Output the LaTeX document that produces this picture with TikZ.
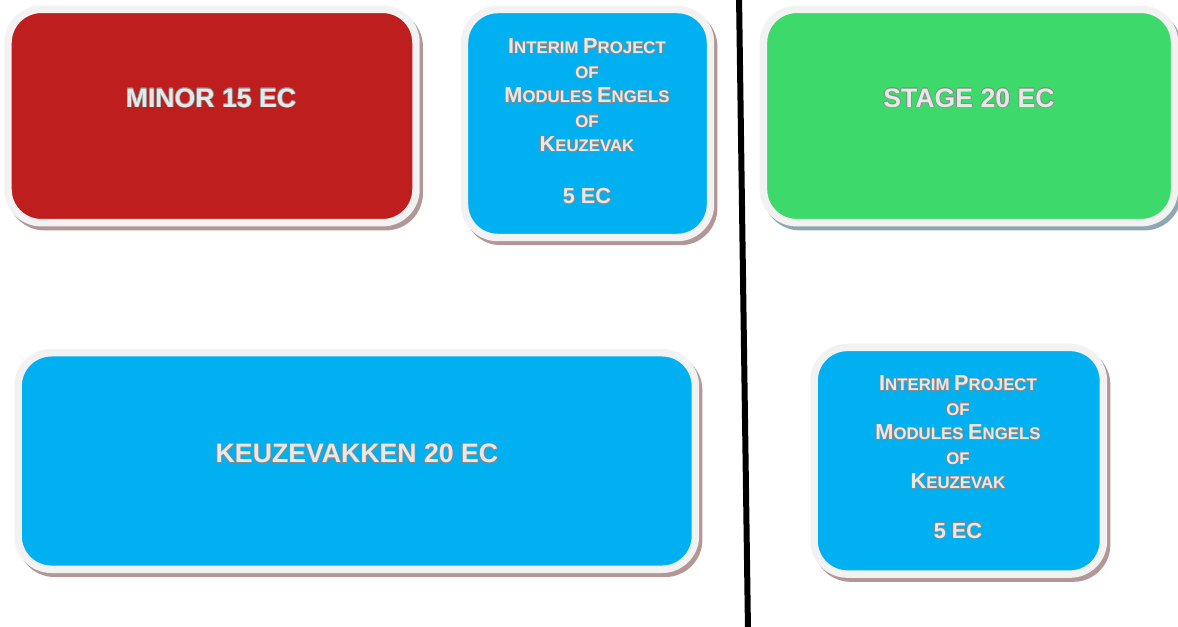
\documentclass[tikz,border=0pt]{standalone}
\usepackage{fontspec}
\setmainfont{Liberation Sans}
\usepackage[copies]{contour}
\contourlength{0.4pt}
\contournumber{16}
\definecolor{minorred}{HTML}{BE1E1E}
\definecolor{sky}{HTML}{00B0F0}
\definecolor{stagegreen}{HTML}{3DD96B}
\definecolor{rimgrey}{HTML}{F2F2F2}
\definecolor{shadebrown}{HTML}{B39696}
\definecolor{shadeblue}{HTML}{8DA8B2}
\definecolor{txtfill}{HTML}{E8E8E8}
\definecolor{txtline}{HTML}{8A8A8A}
\newcommand\oltext[1]{\contour{txtline}{\textcolor{txtfill}{#1}}}
\newcommand\capbig[1]{{\fontsize{16.3pt}{18.4pt}\selectfont #1}}
\begin{document}
\begin{tikzpicture}[x=0.75pt,y=-0.75pt,
  card/.style={draw=rimgrey, line width=5.6pt, rounded corners=25pt,
    minimum width={#1}, inner sep=0pt},
  redcard/.style={card=#1, fill=minorred,
    preaction={draw=shadebrown, fill=shadebrown, transform canvas={shift={(2.4pt,-3pt)}}}},
  bluecard/.style={card=#1, fill=sky,
    preaction={draw=shadebrown, fill=shadebrown, transform canvas={shift={(2.4pt,-3pt)}}}},
  greencard/.style={card=#1, fill=stagegreen,
    preaction={draw=shadeblue, fill=shadeblue, transform canvas={shift={(2.4pt,-3pt)}}}},
  bigtxt/.style={font=\bfseries\fontsize{20pt}{24pt}\selectfont, inner sep=0pt},
  smalltxt/.style={font=\bfseries\fontsize{12.6pt}{18.4pt}\selectfont, align=center, inner sep=0pt},
  divider/.style={line width=4.5pt, black}
]
\useasboundingbox (0,0) rectangle (1178,626);

\node[redcard={306pt}, minimum height={160pt}] (minor) at (212,116) {};
\node[bluecard={184.5pt}, minimum height={171pt}] (intA) at (587.5,123.5) {};
\node[greencard={308.3pt}, minimum height={160pt}] (stage) at (969,116) {};
\node[bluecard={508pt}, minimum height={162.4pt}] (keuze) at (356.75,461) {};
\node[bluecard={217pt}, minimum height={170pt}] (intB) at (958.75,460.75) {};

\node[bigtxt] (minort) at (211,98.5) {\oltext{MINOR 15 EC}};
\node[bigtxt] (staget) at (969,98.5) {\oltext{STAGE 20 EC}};
\node[bigtxt] (keuzet) at (357,454) {\oltext{KEUZEVAKKEN 20 EC}};

\node[smalltxt, anchor=north] (intAt) at (587,38.5) {%
\oltext{\capbig{I}NTERIM \capbig{P}ROJECT}\\
\oltext{OF}\\
\oltext{\capbig{M}ODULES \capbig{E}NGELS}\\
\oltext{OF}\\
\oltext{\capbig{K}EUZEVAK}\\[20.5pt]
\oltext{\capbig{5 EC}}};

\node[smalltxt, anchor=north] (intBt) at (958,375.5) {%
\oltext{\capbig{I}NTERIM \capbig{P}ROJECT}\\
\oltext{OF}\\
\oltext{\capbig{M}ODULES \capbig{E}NGELS}\\
\oltext{OF}\\
\oltext{\capbig{K}EUZEVAK}\\[18.5pt]
\oltext{\capbig{5 EC}}};

\coordinate (divtop) at (739,-5);
\coordinate (divbot) at (748,631);
\draw[divider] (divtop) -- (divbot);
\end{tikzpicture}
\end{document}
